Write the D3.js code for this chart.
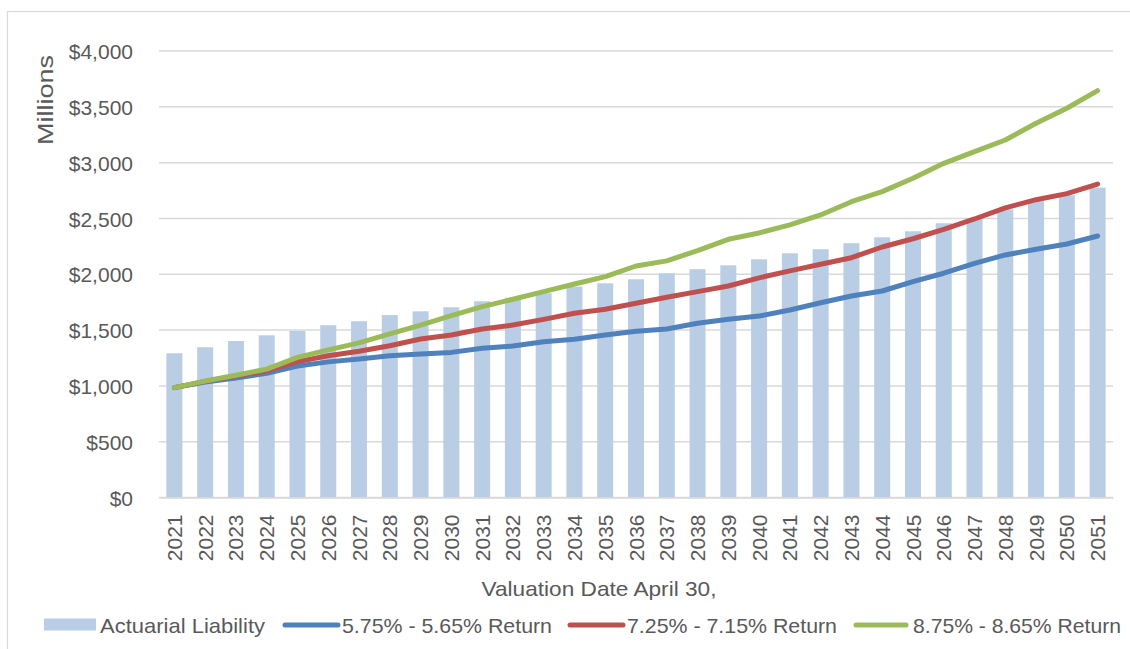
<!DOCTYPE html>
<html>
<head>
<meta charset="utf-8">
<script src="https://cdn.jsdelivr.net/npm/d3@7"></script>
<style>
  html, body { margin: 0; padding: 0; background: #fff; }
  svg { display: block; }
  text { font-family: "Liberation Sans", Arial, sans-serif; fill: #595959; }
</style>
</head>
<body>
<svg id="chart" width="1130" height="649"></svg>
<script>
// ---- Data ----
const years = [2021,2022,2023,2024,2025,2026,2027,2028,2029,2030,2031,2032,2033,2034,2035,2036,2037,2038,2039,2040,2041,2042,2043,2044,2045,2046,2047,2048,2049,2050,2051];
const actuarialLiability = [1292,1346,1402,1453,1492,1543,1579,1634,1668,1704,1758,1790,1830,1889,1919,1955,2009,2045,2080,2134,2188,2224,2278,2331,2385,2457,2502,2582,2654,2708,2776];
const return575 = [984,1035,1070,1113,1178,1215,1240,1270,1285,1300,1337,1357,1396,1417,1456,1490,1510,1561,1597,1625,1680,1745,1805,1850,1934,2009,2098,2173,2224,2271,2343];
const return725 = [984,1040,1088,1135,1217,1270,1310,1360,1420,1456,1510,1545,1596,1650,1686,1740,1794,1844,1895,1968,2030,2090,2148,2244,2318,2403,2495,2595,2668,2722,2808];
const return875 = [984,1043,1095,1150,1255,1322,1385,1465,1545,1630,1710,1776,1844,1913,1979,2074,2120,2212,2313,2370,2442,2531,2650,2740,2860,2994,3098,3203,3353,3487,3645];
const yTicks = [0,500,1000,1500,2000,2500,3000,3500,4000];
const seriesNames = ["Actuarial Liability","5.75% - 5.65% Return","7.25% - 7.15% Return","8.75% - 8.65% Return"];
const yAxisTitle = "Millions";
const xAxisTitle = "Valuation Date April 30,";

// ---- Layout ----
const svg = d3.select("#chart");
const plot = { left: 159, right: 1113, top: 51, bottom: 497.5 };
const colors = { bar: "#b9cde5", blue: "#4f81bd", red: "#c0504d", green: "#9bbb59", grid: "#d9d9d9" };

// chart border
svg.append("rect").attr("x", 7.5).attr("y", 11.5).attr("width", 1140).attr("height", 660)
  .attr("fill", "none").attr("stroke", "#d9d9d9").attr("stroke-width", 1.2);

const x = d3.scaleBand().domain(years).range([plot.left, plot.right]).paddingInner(0.48).paddingOuter(0.24);
const y = d3.scaleLinear().domain([0, 4000]).range([plot.bottom, plot.top]);

// gridlines
svg.append("g").selectAll("line").data(yTicks).join("line")
  .attr("x1", plot.left).attr("x2", plot.right)
  .attr("y1", d => y(d)).attr("y2", d => y(d))
  .attr("stroke", colors.grid).attr("stroke-width", 1.5);

// y axis labels
const fmt = d => "$" + d3.format(",")(d);
const yAxis = svg.append("g").attr("transform", `translate(${plot.left - 26},0)`)
  .call(d3.axisLeft(y).tickValues(yTicks).tickFormat(fmt).tickSize(0).tickPadding(0));
yAxis.select(".domain").remove();
yAxis.selectAll("text").style("font-size", "21px").attr("fill", "#595959")
  .style("font-family", "'Liberation Sans', Arial, sans-serif").attr("dy", "0.36em");

// bars
svg.append("g").selectAll("rect").data(years).join("rect")
  .attr("x", d => x(d)).attr("width", x.bandwidth())
  .attr("y", (d, i) => y(actuarialLiability[i]))
  .attr("height", (d, i) => y(0) - y(actuarialLiability[i]))
  .attr("fill", colors.bar);

// x axis labels
const xAxis = svg.append("g").attr("transform", `translate(0,${plot.bottom})`)
  .call(d3.axisBottom(x).tickSize(0).tickPadding(0));
xAxis.select(".domain").attr("stroke", colors.grid).attr("stroke-width", 1.5);
xAxis.selectAll("text")
  .style("font-size", "21px").style("font-family", "'Liberation Sans', Arial, sans-serif")
  .attr("fill", "#595959")
  .attr("text-anchor", "end")
  .attr("transform", "rotate(-90)")
  .attr("x", -17).attr("y", 0).attr("dy", "0.36em");

// lines
const line = d3.line().x((d, i) => x(years[i]) + x.bandwidth() / 2).y(d => y(d));
[[return575, colors.blue], [return725, colors.red], [return875, colors.green]].forEach(([vals, c]) => {
  svg.append("path").datum(vals).attr("d", line)
    .attr("fill", "none").attr("stroke", c).attr("stroke-width", 5)
    .attr("stroke-linecap", "round").attr("stroke-linejoin", "round");
});

// axis titles
svg.append("text").attr("transform", "translate(45,100) rotate(-90)")
  .attr("text-anchor", "middle").attr("dy", "0.36em")
  .style("font-size", "22px").attr("textLength", 90).attr("lengthAdjust", "spacingAndGlyphs")
  .text(yAxisTitle);
svg.append("text").attr("x", 599).attr("y", 588).attr("dy", "0.36em")
  .attr("text-anchor", "middle").style("font-size", "21px")
  .attr("textLength", 235).attr("lengthAdjust", "spacingAndGlyphs")
  .text(xAxisTitle);

// legend
const legendY = 625;
const lg = svg.append("g");
lg.append("rect").attr("x", 44).attr("y", legendY - 6.5).attr("width", 52).attr("height", 12).attr("fill", colors.bar);
lg.append("text").attr("x", 100).attr("y", legendY).attr("dy", "0.36em").style("font-size", "21px")
  .attr("textLength", 165).attr("lengthAdjust", "spacingAndGlyphs").text(seriesNames[0]);
const legLines = [
  { x1: 285, x2: 338, tx: 342, tw: 210, c: colors.blue, name: seriesNames[1] },
  { x1: 570, x2: 623, tx: 627, tw: 210, c: colors.red, name: seriesNames[2] },
  { x1: 856, x2: 906, tx: 913, tw: 208, c: colors.green, name: seriesNames[3] }
];
legLines.forEach(l => {
  lg.append("line").attr("x1", l.x1).attr("x2", l.x2).attr("y1", legendY).attr("y2", legendY)
    .attr("stroke", l.c).attr("stroke-width", 5).attr("stroke-linecap", "round");
  lg.append("text").attr("x", l.tx).attr("y", legendY).attr("dy", "0.36em").style("font-size", "21px")
    .attr("textLength", l.tw).attr("lengthAdjust", "spacingAndGlyphs").text(l.name);
});
</script>
</body>
</html>
